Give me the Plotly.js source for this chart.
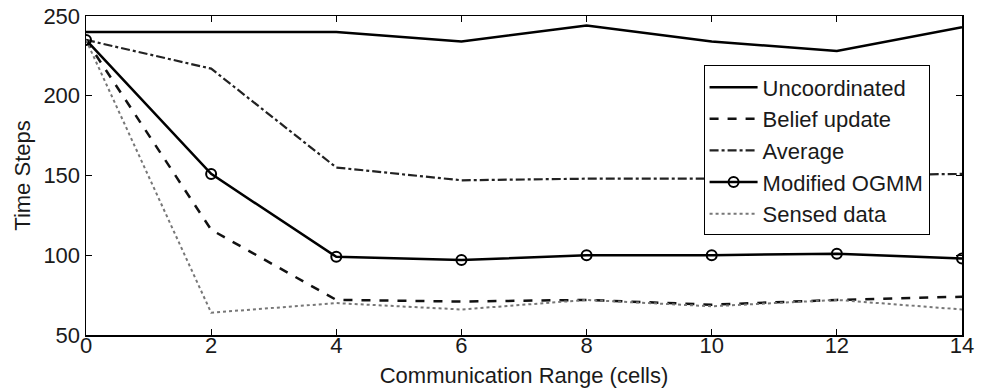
<!DOCTYPE html>
<html>
<head>
<meta charset="utf-8">
<script src="https://cdn.plot.ly/plotly-3.0.1.min.js"></script>
<style>html,body{margin:0;padding:0;background:#fff;}#chart{width:982px;height:388px;}</style>
</head>
<body>
<div id="chart"></div>
<script>
const commRange = [0, 2, 4, 6, 8, 10, 12, 14];
const uncoordinated = [240, 240, 240, 234, 244, 234, 228, 243];
const beliefUpdate = [235, 116, 72, 71, 72, 69, 72, 74];
const average = [235, 217, 155, 147, 148, 148, 150, 151];
const modifiedOGMM = [235, 151, 99, 97, 100, 100, 101, 98];
const sensedData = [235, 64, 70, 66, 72, 68, 72, 66];
const xTicks = [0, 2, 4, 6, 8, 10, 12, 14];
const yTicks = [50, 100, 150, 200, 250];

const FONT = 'Liberation Sans, Arial, sans-serif';
const TXT = '#1a1a1a';
const traces = [
  {x: commRange, y: uncoordinated, name: 'Uncoordinated', mode: 'lines',
   line: {color: '#000', width: 2.5, dash: 'solid'}},
  {x: commRange, y: beliefUpdate, name: 'Belief update', mode: 'lines',
   line: {color: '#111', width: 2.5, dash: 'dash'}},
  {x: commRange, y: average, name: 'Average', mode: 'lines',
   line: {color: '#222', width: 2.2, dash: 'dashdot'}},
  {x: commRange, y: modifiedOGMM, name: 'Modified OGMM', mode: 'lines+markers',
   line: {color: '#000', width: 2.5},
   marker: {symbol: 'circle-open', size: 10, color: '#000', line: {width: 2, color: '#000'}}},
  {x: commRange, y: sensedData, name: 'Sensed data', mode: 'lines',
   line: {color: '#777', width: 2, dash: 'dot'}}
];

const layout = {
  width: 982, height: 388,
  margin: {l: 86, r: 20, t: 16, b: 53},
  paper_bgcolor: '#fff', plot_bgcolor: '#fff',
  font: {family: FONT, color: TXT, size: 22},
  showlegend: true,
  legend: {x: 0.705, y: 0.845, xanchor: 'left', yanchor: 'top',
    bgcolor: '#fff', bordercolor: '#000', borderwidth: 1, itemwidth: 48,
    font: {family: FONT, size: 22, color: TXT}},
  xaxis: {
    range: [0, 14], tickvals: xTicks, ticktext: xTicks.map(String),
    ticks: 'inside', ticklen: 6, tickcolor: '#000', mirror: 'ticks',
    showline: true, linecolor: '#000', linewidth: 1.5, showgrid: false, zeroline: false,
    tickfont: {size: 22, family: FONT, color: TXT},
    ticklabelstandoff: -10,
    title: {text: 'Communication Range (cells)', font: {size: 22, family: FONT, color: TXT}, standoff: 14}
  },
  yaxis: {
    range: [50, 250], tickvals: yTicks, ticktext: yTicks.map(String),
    ticks: 'inside', ticklen: 6, tickcolor: '#000', mirror: 'ticks',
    showline: true, linecolor: '#000', linewidth: 1.5, showgrid: false, zeroline: false,
    tickfont: {size: 22, family: FONT, color: TXT},
    title: {text: 'Time Steps', font: {size: 22, family: FONT, color: TXT}, standoff: 6}
  }
};

Plotly.newPlot('chart', traces, layout, {displayModeBar: false, staticPlot: true});
</script>
</body>
</html>
